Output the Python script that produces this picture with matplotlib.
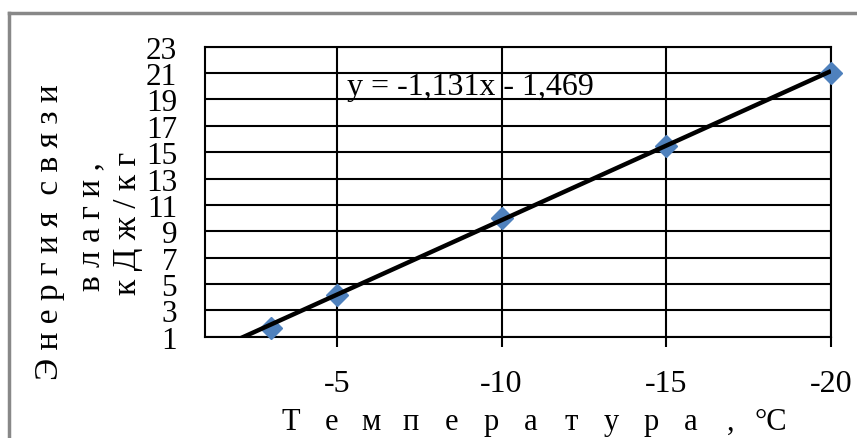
import numpy as np
import matplotlib
matplotlib.use("Agg")
import matplotlib.pyplot as plt
from matplotlib.lines import Line2D

# measured points: temperature (°C) vs binding energy (kJ/kg)
temperature = [-3, -5, -10, -15, -20]
energy = [1.66, 4.16, 9.98, 15.47, 20.98]

# linear trend shown on the chart
slope = -1.131
intercept = -1.469
trend_x = [-2, -20]

x_ticks = [-5, -10, -15, -20]
y_ticks = list(range(1, 24, 2))

W, H = 857, 439
plt.rcParams['font.family'] = ['Liberation Serif', 'DejaVu Serif']

fig = plt.figure(figsize=(W / 100, H / 100), dpi=100)
fig.patch.set_facecolor('white')


def fx(px):
    return px / W


def fy(py):
    return 1 - py / H


left, right, top, bottom = 205, 831, 47.7, 337.7
ax = fig.add_axes([fx(left), fy(bottom), fx(right - left), (bottom - top) / H])

ax.plot(temperature, energy, linestyle='none', marker='D', markersize=11,
        color='#4F81BD', zorder=3, clip_on=False)
tx = np.array(trend_x, dtype=float)
ax.plot(tx, slope * tx + intercept, color='black', lw=3.2, zorder=4,
        solid_capstyle='butt')

ax.set_xlim(-1, -20)
ax.set_ylim(1, 23)
ax.set_xticks(x_ticks)
ax.set_xticklabels([str(t) for t in x_ticks])
ax.set_yticks(y_ticks)
ax.set_yticklabels([str(t) for t in y_ticks])
ax.grid(True, color='black', lw=1.5, zorder=1)
ax.set_axisbelow(True)
for s in ax.spines.values():
    s.set_color('black')
    s.set_linewidth(1.5)
ax.tick_params(axis='x', direction='out', length=7, width=1.5, pad=16,
               labelsize=23)
ax.tick_params(axis='y', length=0, pad=20, labelsize=22.5)

ax.text(-5.32, 20.0, 'y = -1,131x - 1,469', fontsize=23, va='center',
        ha='left', zorder=5)

# axis titles with spaced-out letters
ylabel_lines = ['Э н е р г и я  с в я з и', 'в л а г и ,', 'к Д ж / к г']
ylabel_x = [50, 91, 128]
ylabel_y = [232, 227, 223]
for text, px, py in zip(ylabel_lines, ylabel_x, ylabel_y):
    fig.text(fx(px), fy(py), text, rotation=90, ha='center', va='center',
             fontsize=24)

xlabel_chars = ['Т', 'е', 'м', 'п', 'е', 'р', 'а', 'т', 'у', 'р', 'а', ',', '°C']
for i, ch in enumerate(xlabel_chars):
    fig.text(fx(291 + 40 * i), fy(430), ch, ha='center', va='baseline',
             fontsize=22)

# chart frame
fig.add_artist(Line2D([fx(9), fx(9)], [fy(14), 0], color='#888888', lw=2.5,
                      transform=fig.transFigure))
fig.add_artist(Line2D([fx(9), 1], [fy(14), fy(14)], color='#888888', lw=2.5,
                      transform=fig.transFigure))

fig.savefig('out.png', dpi=100)
